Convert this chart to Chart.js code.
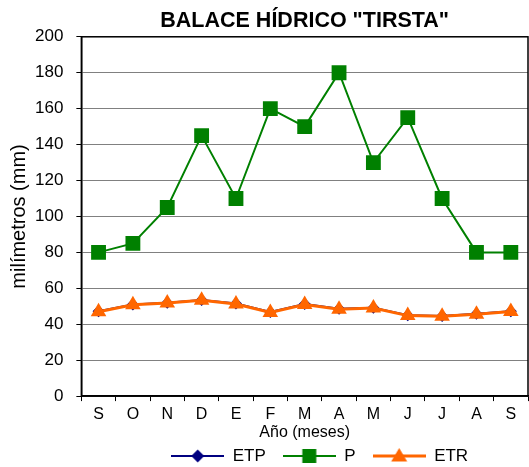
<!DOCTYPE html>
<html>
<head>
<meta charset="utf-8">
<script src="https://cdn.jsdelivr.net/npm/chart.js@4/dist/chart.umd.min.js"></script>
<style>
  html, body { margin: 0; padding: 0; background: #fff; }
  #wrap { width: 529px; height: 467px; position: relative; }
</style>
</head>
<body>
<div id="wrap"><canvas id="chart"></canvas></div>
<script>
// --- data ---
const MONTHS = ['S', 'O', 'N', 'D', 'E', 'F', 'M', 'A', 'M', 'J', 'J', 'A', 'S'];
const ETP = [47.3, 51, 52, 53.5, 51.5, 46.8, 51.2, 48.6, 49.2, 45, 44.6, 45.8, 47.3];
const P = [80, 85, 105, 145, 110, 160, 150, 180, 130, 155, 110, 80, 80];
const ETR = [47, 50.8, 51.8, 53.3, 51.3, 46.6, 51, 48.4, 49, 44.8, 44.4, 45.6, 47.1];
const Y_MIN = 0, Y_MAX = 200, Y_STEP = 20;

const FONT = "'Liberation Sans', Arial, sans-serif";
const NAVY = '#000080', GREEN = '#008000', ORANGE = '#FF6600';
const ICON_W = 53;

// legend icon: short line with the marker in the middle
function legendIcon(color, style, r, lw) {
  const c = document.createElement('canvas');
  c.width = ICON_W; c.height = 18;
  const ctx = c.getContext('2d');
  const mid = ICON_W / 2;
  ctx.strokeStyle = color;
  ctx.lineWidth = lw;
  ctx.beginPath();
  ctx.moveTo(0, 9);
  ctx.lineTo(ICON_W, 9);
  ctx.stroke();
  ctx.fillStyle = color;
  ctx.beginPath();
  if (style === 'rectRot') {
    ctx.moveTo(mid, 9 - r); ctx.lineTo(mid + r, 9); ctx.lineTo(mid, 9 + r); ctx.lineTo(mid - r, 9);
  } else if (style === 'rect') {
    ctx.rect(mid - r, 9 - r, 2 * r, 2 * r);
  } else {
    ctx.moveTo(mid, 9 - r); ctx.lineTo(mid + r, 9 + r * 0.7); ctx.lineTo(mid - r, 9 + r * 0.7);
  }
  ctx.closePath();
  ctx.fill();
  return c;
}

// frame around the plot area
const plotFrame = {
  id: 'plotFrame',
  beforeDatasetsDraw(chart) {
    const a = chart.chartArea, ctx = chart.ctx;
    ctx.save();
    ctx.strokeStyle = '#000';
    ctx.lineWidth = 1.5;
    ctx.strokeRect(a.left, a.top, a.right - a.left, a.bottom - a.top);
    ctx.restore();
  }
};

// legend sits a bit right of the plot centre in the original
const legendNudge = {
  id: 'legendNudge',
  afterLayout(chart) {
    chart.legend.left += 15;
    chart.legend.right += 15;
  }
};

const icons = [
  legendIcon(NAVY, 'rectRot', 6.5, 2),
  legendIcon(GREEN, 'rect', 7, 2),
  legendIcon(ORANGE, 'triangle', 8, 3),
];

new Chart(document.getElementById('chart'), {
  type: 'line',
  data: {
    labels: MONTHS,
    datasets: [
      {
        label: 'ETP',
        data: ETP,
        order: 2,
        borderColor: NAVY,
        backgroundColor: NAVY,
        borderWidth: 2,
        pointStyle: 'rectRot',
        pointRadius: 6,
        pointBorderWidth: 0,
        tension: 0,
      },
      {
        label: 'P',
        data: P,
        order: 1,
        borderColor: GREEN,
        backgroundColor: GREEN,
        borderWidth: 2,
        pointStyle: 'rect',
        pointRadius: 10.5,
        pointBorderWidth: 0,
        tension: 0,
      },
      {
        label: 'ETR',
        data: ETR,
        order: 0,
        borderColor: ORANGE,
        backgroundColor: ORANGE,
        borderWidth: 3,
        pointStyle: 'triangle',
        pointRadius: 9,
        pointBorderWidth: 0,
        tension: 0,
      },
    ],
  },
  options: {
    responsive: true,
    maintainAspectRatio: false,
    animation: false,
    layout: { autoPadding: false, padding: { left: 2, right: 1, top: 8, bottom: -7.5 } },
    plugins: {
      title: {
        display: true,
        text: 'BALACE HÍDRICO "TIRSTA"',
        fullSize: false,
        color: '#000',
        font: { family: FONT, size: 21.5, weight: 'bold' },
        padding: { top: 0, bottom: 3 },
      },
      legend: {
        position: 'bottom',
        fullSize: false,
        labels: {
          usePointStyle: true,
          pointStyleWidth: ICON_W,
          padding: 17,
          color: '#000',
          font: { family: FONT, size: 17 },
          sort: (a, b) => a.datasetIndex - b.datasetIndex,
          generateLabels(chart) {
            return Chart.defaults.plugins.legend.labels.generateLabels(chart)
              .map(l => ({ ...l, pointStyle: icons[l.datasetIndex] }));
          },
        },
      },
      tooltip: { enabled: false },
    },
    scales: {
      x: {
        offset: true,
        grid: { offset: true, drawOnChartArea: false, drawTicks: true, tickLength: 5, color: '#000' },
        border: { color: '#000', width: 1.5 },
        ticks: { color: '#000', font: { family: FONT, size: 16 }, padding: 4, maxRotation: 0 },
        title: {
          display: true,
          text: 'Año (meses)',
          color: '#000',
          font: { family: FONT, size: 16 },
          padding: { top: -5, bottom: -12 },
        },
        afterFit(scale) {
          // labels sit inside the offset categories, no side padding needed
          scale.paddingLeft = 0;
          scale.paddingRight = 0;
        },
      },
      y: {
        min: Y_MIN,
        max: Y_MAX,
        ticks: { stepSize: Y_STEP, color: '#000', font: { family: FONT, size: 17 }, padding: 13 },
        grid: { color: '#808080', lineWidth: 1, tickLength: 5, tickColor: '#000' },
        border: { color: '#000', width: 1.5 },
        title: {
          display: true,
          text: 'milímetros (mm)',
          color: '#000',
          font: { family: FONT, size: 20 },
          padding: { top: 5, bottom: -9 },
        },
      },
    },
  },
  plugins: [plotFrame, legendNudge],
});
</script>
</body>
</html>
